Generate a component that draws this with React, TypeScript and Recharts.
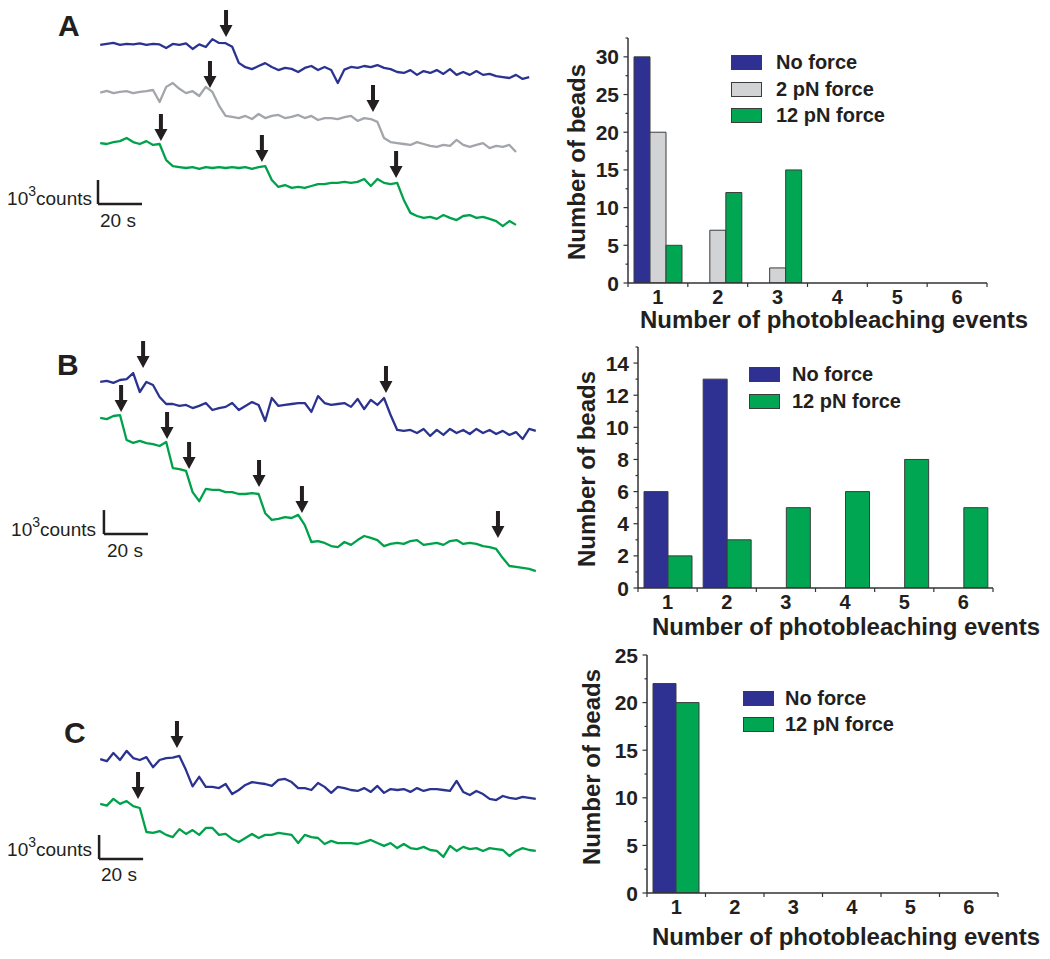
import React from 'react';
import {
  LineChart, Line, XAxis, YAxis, ReferenceDot, ReferenceLine,
  BarChart, Bar, Legend,
} from 'recharts';

// ---------- styling constants ----------
const FONT = '"Liberation Sans", Arial, Helvetica, sans-serif';
const INK = '#231F20';
const AXIS = '#333333';
const BAR_STROKE = '#3C3C3C';
const BLUE = '#2E3192';
const GREEN = '#00A651';
const GRAY_BAR = '#D1D3D4';
const TRACE_BLUE = '#2B3391';
const TRACE_GREEN = '#00A14B';
const TRACE_GRAY = '#A2A5AA';

// ---------- trace data (intensity, 10^3 counts, sampled every 3 s from t = 1 s) ----------
const DT = 3;
const T0 = 1;

const A_BLUE = [
  8.13, 8.17, 8.21, 8.13, 8.17, 8.15, 8.19, 8.13, 8.17, 8.15,
  8.0, 8.17, 8.13, 8.19, 7.96, 8.15, 8.04, 8.37, 8.21, 8.2,
  8.05, 7.38, 7.2, 7.12, 7.25, 7.37, 7.21, 7.08, 7.17, 7.13,
  7.0, 7.17, 7.25, 7.08, 7.21, 7.08, 6.54, 7.1, 7.21, 7.17,
  7.25, 7.2, 7.29, 7.17, 7.12, 7.0, 6.96, 7.08, 6.88, 7.04,
  6.96, 7.08, 6.92, 7.12, 6.88, 7.0, 6.88, 7.04, 6.88, 6.92,
  6.83, 6.79, 6.75, 6.88, 6.71, 6.79,
];
const A_GRAY = [
  6.14, 6.21, 6.12, 6.17, 6.2, 6.12, 6.17, 6.2, 6.25, 5.75,
  6.38, 6.54, 6.3, 6.12, 6.2, 6.0, 6.38, 6.17, 5.6, 5.17,
  5.13, 5.08, 5.17, 5.04, 5.25, 5.08, 5.17, 5.21, 5.08, 5.13,
  5.21, 5.08, 5.17, 5.0, 5.08, 5.08, 5.04, 5.12, 5.17, 4.96,
  5.08, 5.04, 4.92, 4.25, 4.08, 4.04, 4.0, 3.96, 4.08, 4.0,
  3.92, 3.88, 3.96, 3.92, 4.17, 3.96, 3.88, 3.96, 4.04, 3.83,
  3.92, 3.88, 3.96, 3.67,
];
const A_GREEN = [
  4.04, 4.0, 4.08, 4.12, 4.25, 4.08, 4.0, 4.12, 3.96, 4.0,
  3.33, 3.08, 3.04, 3.0, 3.04, 2.96, 3.04, 3.0, 3.04, 3.0,
  3.04, 3.0, 3.04, 2.96, 3.04, 3.08, 2.5, 2.21, 2.29, 2.17,
  2.21, 2.17, 2.25, 2.33, 2.33, 2.38, 2.38, 2.42, 2.38, 2.42,
  2.54, 2.25, 2.54, 2.38, 2.33, 2.38, 1.67, 1.13, 1.0, 0.92,
  0.96, 0.88, 1.04, 0.92, 0.83, 1.0, 1.04, 0.92, 0.96, 0.88,
  0.79, 0.58, 0.79, 0.63,
];

const B_BLUE = [
  8.67, 8.71, 8.63, 8.75, 8.79, 9.04, 8.25, 8.67, 8.54, 8.04,
  7.75, 7.75, 7.67, 7.71, 7.58, 7.67, 7.79, 7.5, 7.58, 7.63,
  7.79, 7.5, 7.67, 7.83, 7.71, 7.04, 8.0, 7.67, 7.71, 7.75,
  7.79, 7.79, 7.42, 8.08, 7.79, 7.71, 7.75, 7.79, 7.63, 7.96,
  7.54, 7.92, 7.71, 8.0, 7.29, 6.67, 6.63, 6.67, 6.54, 6.71,
  6.42, 6.67, 6.46, 6.71, 6.54, 6.67, 6.5, 6.71, 6.54, 6.67,
  6.5, 6.63, 6.46, 6.58, 6.29, 6.71, 6.63,
];
const B_GREEN = [
  7.17, 7.12, 7.25, 7.29, 6.25, 6.13, 6.21, 6.12, 6.08, 6.0,
  6.17, 5.08, 5.04, 4.96, 4.08, 3.7, 4.21, 4.17, 4.17, 4.08,
  4.08, 4.0, 4.0, 4.04, 4.0, 3.2, 2.92, 2.96, 3.04, 3.0,
  3.13, 2.7, 2.0, 2.04, 1.96, 1.83, 1.79, 2.0, 1.88, 2.08,
  2.25, 2.17, 2.08, 1.83, 1.92, 1.96, 1.92, 2.04, 2.08, 1.88,
  1.92, 1.96, 1.88, 2.04, 2.08, 1.92, 1.96, 1.92, 1.83, 1.79,
  1.71, 1.33, 1.0, 0.96, 0.92, 0.88, 0.79,
];

const C_BLUE = [
  5.04, 4.95, 5.29, 5.0, 5.38, 5.08, 5.0, 5.12, 4.7, 5.0,
  5.08, 5.1, 5.17, 4.58, 3.9, 4.3, 3.88, 3.88, 3.83, 4.0,
  3.58, 3.75, 3.96, 4.08, 4.04, 4.0, 3.92, 4.17, 4.21, 4.08,
  3.83, 3.83, 3.75, 4.04, 3.88, 3.63, 3.88, 3.83, 3.75, 3.71,
  3.83, 3.67, 3.92, 3.63, 3.79, 3.75, 3.79, 3.67, 3.83, 3.71,
  3.79, 3.79, 3.75, 3.71, 4.13, 3.67, 3.54, 3.71, 3.58, 3.38,
  3.33, 3.5, 3.42, 3.38, 3.46, 3.42, 3.38,
];
const C_GREEN = [
  3.17, 3.1, 3.38, 3.17, 3.29, 3.08, 3.0, 2.0, 1.96, 2.04,
  1.88, 1.79, 2.12, 1.92, 2.08, 1.88, 2.17, 2.17, 1.88, 1.92,
  1.71, 1.58, 1.75, 1.92, 1.75, 1.88, 1.88, 1.96, 1.92, 1.88,
  1.54, 1.88, 1.79, 1.75, 1.5, 1.63, 1.54, 1.54, 1.54, 1.5,
  1.58, 1.67, 1.54, 1.42, 1.54, 1.33, 1.5, 1.33, 1.29, 1.38,
  1.25, 1.21, 0.96, 1.42, 1.21, 1.38, 1.29, 1.33, 1.21, 1.33,
  1.29, 1.25, 1.0, 1.21, 1.33, 1.25, 1.21,
];

// photobleaching arrows (time s, intensity of arrow tip)
const A_ARROWS = [
  { t: 58.2, v: 8.46 }, { t: 50.9, v: 6.33 }, { t: 125, v: 5.33 },
  { t: 28.6, v: 4.13 }, { t: 74.5, v: 3.25 }, { t: 135.5, v: 2.58 },
];
const B_ARROWS = [
  { t: 20.5, v: 9.25 }, { t: 130.9, v: 8.21 },
  { t: 10.5, v: 7.42 }, { t: 31.4, v: 6.29 }, { t: 41.4, v: 5.04 },
  { t: 73.2, v: 4.29 }, { t: 92.7, v: 3.21 }, { t: 181.8, v: 2.17 },
];
const C_ARROWS = [{ t: 35.9, v: 5.5 }, { t: 18.2, v: 3.38 }];

// scale bars (origin; 20 s x 10^3 counts)
const A_SCALE = { t: 0, v: 1.5 };
const B_SCALE = { t: 2.7, v: 2.33 };
const C_SCALE = { t: 0.5, v: 0.875 };

// ---------- histogram data ----------
const EVENTS = ['1', '2', '3', '4', '5', '6'];
const A_NO_FORCE = [30, 0, 0, 0, 0, 0];
const A_2PN = [20, 7, 2, 0, 0, 0];
const A_12PN = [5, 12, 15, 0, 0, 0];
const B_NO_FORCE = [6, 13, 0, 0, 0, 0];
const B_12PN = [2, 3, 5, 6, 8, 5];
const C_NO_FORCE = [22, 0, 0, 0, 0, 0];
const C_12PN = [20, 0, 0, 0, 0, 0];

const A_YTICKS = [0, 2.5, 5, 7.5, 10, 12.5, 15, 17.5, 20, 22.5, 25, 27.5, 30, 32.5];
const B_YTICKS = [0, 1, 2, 3, 4, 5, 6, 7, 8, 9, 10, 11, 12, 13, 14, 15];
const C_YTICKS = [0, 2.5, 5, 7.5, 10, 12.5, 15, 17.5, 20, 22.5, 25];

const toSeries = (vals: number[]) => vals.map((v, i) => ({ t: T0 + i * DT, v }));

// ---------- shapes ----------
const Arrow = (props: any) => {
  const { cx, cy } = props;
  if (cx == null || cy == null) return null;
  const d = `M${cx},${cy} L${cx - 6.5},${cy - 12} L${cx - 2},${cy - 12} L${cx - 2},${cy - 27} L${cx + 2},${cy - 27} L${cx + 2},${cy - 12} L${cx + 6.5},${cy - 12} Z`;
  return <path d={d} fill={INK} />;
};

type Trace = { values: number[]; color: string };

function TracePanel(props: {
  top: number; height: number; marginTop: number; yMax: number;
  traces: Trace[]; arrows: { t: number; v: number }[]; scale: { t: number; v: number };
}) {
  const { top, height, marginTop, yMax, traces, arrows, scale } = props;
  return (
    <div style={{ position: 'absolute', left: 0, top, width: 545, height }}>
      <LineChart width={545} height={height} margin={{ top: marginTop, right: 7, bottom: 0, left: 98 }}>
        <XAxis type="number" dataKey="t" domain={[0, 200]} hide allowDataOverflow />
        <YAxis type="number" domain={[0, yMax]} hide allowDataOverflow />
        {traces.map((tr, i) => (
          <Line
            key={i}
            data={toSeries(tr.values)}
            dataKey="v"
            type="linear"
            stroke={tr.color}
            strokeWidth={2.3}
            strokeLinejoin="round"
            dot={false}
            activeDot={false}
            isAnimationActive={false}
          />
        ))}
        <ReferenceLine
          segment={[{ x: scale.t, y: scale.v }, { x: scale.t, y: scale.v + 1 }]}
          stroke={INK} strokeWidth={2.5} ifOverflow="visible"
        />
        <ReferenceLine
          segment={[{ x: scale.t, y: scale.v }, { x: scale.t + 20, y: scale.v }]}
          stroke={INK} strokeWidth={2.5} ifOverflow="visible"
        />
        {arrows.map((a, i) => (
          <ReferenceDot key={i} x={a.t} y={a.v} r={0} shape={Arrow} ifOverflow="visible" />
        ))}
      </LineChart>
    </div>
  );
}

const YTick = (props: any) => {
  const { x, y, payload, step } = props;
  const val = payload.value;
  const major = Math.abs(val / step - Math.round(val / step)) < 1e-6;
  return (
    <g>
      <line x1={x} x2={x - (major ? 4.5 : 2.5)} y1={y} y2={y} stroke={AXIS} strokeWidth={1.2} />
      {major && (
        <text x={x - 9} y={y} dy="0.36em" textAnchor="end" fontSize={21} fontWeight="bold"
          fontFamily={FONT} fill={INK}>{val}</text>
      )}
    </g>
  );
};

const XTick = (props: any) => {
  const { x, y, payload, index, band, count } = props;
  return (
    <g>
      <line x1={x - band / 2} x2={x - band / 2} y1={y} y2={y + 4} stroke={AXIS} strokeWidth={1.2} />
      {index === count - 1 && (
        <line x1={x + band / 2} x2={x + band / 2} y1={y} y2={y + 4} stroke={AXIS} strokeWidth={1.2} />
      )}
      <text x={x} y={y + 21} textAnchor="middle" fontSize={20} fontWeight="bold"
        fontFamily={FONT} fill={INK}>{payload.value}</text>
    </g>
  );
};

const LegendContent = (props: any) => {
  const { payload, gap, textGap, order } = props;
  const items = [...(payload || [])].sort(
    (a: any, b: any) => order.indexOf(a.value) - order.indexOf(b.value),
  );
  return (
    <div style={{ fontFamily: FONT }}>
      {items.map((p: any, i: number) => (
        <div key={i} style={{ display: 'flex', alignItems: 'flex-start', height: 15, marginBottom: gap }}>
          <div style={{
            width: 31, height: 15, background: p.color, border: `1px solid ${BAR_STROKE}`,
            boxSizing: 'border-box', flex: 'none',
          }} />
          <span style={{
            marginLeft: textGap, fontSize: 20, fontWeight: 'bold', lineHeight: '15px',
            color: INK, whiteSpace: 'nowrap',
          }}>{p.value}</span>
        </div>
      ))}
    </div>
  );
};

type Series = { key: string; name: string; values: number[]; fill: string };

function Histogram(props: {
  top: number; height: number; margin: { top: number; right: number; left: number };
  xAxisHeight: number; yMax: number; yTicks: number[]; yStep: number; series: Series[];
  legendPos: { left: number; top: number; gap: number; textGap: number };
}) {
  const { top, height, margin, xAxisHeight, yMax, yTicks, yStep, series, legendPos } = props;
  const width = 510;
  const plotW = width - margin.left - margin.right - 60;
  const band = plotW / EVENTS.length;
  const order = series.map((s) => s.name);
  const data = EVENTS.map((c, i) => {
    const row: any = { n: c };
    series.forEach((s) => { row[s.key] = s.values[i]; });
    return row;
  });
  return (
    <div style={{ position: 'absolute', left: 540, top, width, height }}>
      <BarChart width={width} height={height} data={data}
        margin={{ top: margin.top, right: margin.right, left: margin.left, bottom: 0 }}
        barCategoryGap={6} barGap={0}>
        <XAxis dataKey="n" type="category" interval={0} height={xAxisHeight}
          tickSize={0} tickMargin={0} tickLine={false}
          axisLine={{ stroke: AXIS, strokeWidth: 1.5 }}
          tick={(p: any) => <XTick {...p} band={band} count={EVENTS.length} />} />
        <YAxis type="number" domain={[0, yMax]} ticks={yTicks} interval={0} width={60}
          allowDataOverflow tickSize={0} tickMargin={0} tickLine={false}
          axisLine={{ stroke: AXIS, strokeWidth: 1.5 }}
          tick={(p: any) => <YTick {...p} step={yStep} />} />
        <Legend layout="vertical" align="center" verticalAlign="middle"
          wrapperStyle={{ left: legendPos.left, top: legendPos.top, width: 'auto' }}
          content={(p: any) => (
            <LegendContent payload={p.payload} order={order} gap={legendPos.gap} textGap={legendPos.textGap} />
          )} />
        {series.map((s) => (
          <Bar key={s.key} dataKey={s.key} name={s.name} fill={s.fill}
            stroke={BAR_STROKE} strokeWidth={1} isAnimationActive={false} />
        ))}
      </BarChart>
    </div>
  );
}

const textStyle = { fontFamily: FONT, fill: INK } as const;

function CountsLabel({ xEnd, y }: { xEnd: number; y: number }) {
  return (
    <text x={xEnd} y={y} textAnchor="end" fontSize={19} {...textStyle}>
      10<tspan fontSize={14} dy={-9}>3</tspan><tspan dy={9}>counts</tspan>
    </text>
  );
}

export default function App() {
  return (
    <div style={{
      position: 'absolute', left: 0, top: 0, width: 1050, height: 959,
      background: '#ffffff', overflow: 'hidden', fontFamily: FONT,
    }}>
      <TracePanel top={0} height={240} marginTop={0} yMax={10}
        traces={[
          { values: A_BLUE, color: TRACE_BLUE },
          { values: A_GRAY, color: TRACE_GRAY },
          { values: A_GREEN, color: TRACE_GREEN },
        ]}
        arrows={A_ARROWS} scale={A_SCALE} />
      <TracePanel top={330} height={260} marginTop={20} yMax={10}
        traces={[
          { values: B_BLUE, color: TRACE_BLUE },
          { values: B_GREEN, color: TRACE_GREEN },
        ]}
        arrows={B_ARROWS} scale={B_SCALE} />
      <TracePanel top={690} height={190} marginTop={10} yMax={7.5}
        traces={[
          { values: C_BLUE, color: TRACE_BLUE },
          { values: C_GREEN, color: TRACE_GREEN },
        ]}
        arrows={C_ARROWS} scale={C_SCALE} />

      <Histogram top={25} height={315} margin={{ top: 13, right: 63, left: 28 }} xAxisHeight={57}
        yMax={32.5} yTicks={A_YTICKS} yStep={5}
        series={[
          { key: 'noForce', name: 'No force', values: A_NO_FORCE, fill: BLUE },
          { key: 'pn2', name: '2 pN force', values: A_2PN, fill: GRAY_BAR },
          { key: 'pn12', name: '12 pN force', values: A_12PN, fill: GREEN },
        ]}
        legendPos={{ left: 191, top: 30, gap: 11.5, textGap: 14 }} />
      <Histogram top={330} height={300} margin={{ top: 17, right: 57, left: 38 }} xAxisHeight={42}
        yMax={15} yTicks={B_YTICKS} yStep={2}
        series={[
          { key: 'noForce', name: 'No force', values: B_NO_FORCE, fill: BLUE },
          { key: 'pn12', name: '12 pN force', values: B_12PN, fill: GREEN },
        ]}
        legendPos={{ left: 209, top: 37, gap: 12, textGap: 12 }} />
      <Histogram top={640} height={300} margin={{ top: 15, right: 52, left: 47 }} xAxisHeight={47}
        yMax={25} yTicks={C_YTICKS} yStep={5}
        series={[
          { key: 'noForce', name: 'No force', values: C_NO_FORCE, fill: BLUE },
          { key: 'pn12', name: '12 pN force', values: C_12PN, fill: GREEN },
        ]}
        legendPos={{ left: 203, top: 51, gap: 11, textGap: 11 }} />

      <svg width={1050} height={959} style={{ position: 'absolute', left: 0, top: 0, pointerEvents: 'none' }}>
        <text x={58} y={36} fontSize={30} fontWeight="bold" {...textStyle}>A</text>
        <text x={57} y={375} fontSize={30} fontWeight="bold" {...textStyle}>B</text>
        <text x={64} y={743} fontSize={30} fontWeight="bold" {...textStyle}>C</text>

        <CountsLabel xEnd={92} y={205} />
        <CountsLabel xEnd={96} y={536} />
        <CountsLabel xEnd={92} y={856} />
        <text x={100} y={227} fontSize={19} {...textStyle}>20 s</text>
        <text x={107} y={557} fontSize={19} {...textStyle}>20 s</text>
        <text x={101} y={881} fontSize={19} {...textStyle}>20 s</text>

        <text x={834} y={328} textAnchor="middle" fontSize={24} fontWeight="bold" {...textStyle}>Number of photobleaching events</text>
        <text x={846} y={635} textAnchor="middle" fontSize={24} fontWeight="bold" {...textStyle}>Number of photobleaching events</text>
        <text x={846} y={945} textAnchor="middle" fontSize={24} fontWeight="bold" {...textStyle}>Number of photobleaching events</text>

        <text x={585} y={162} textAnchor="middle" fontSize={24} fontWeight="bold" transform="rotate(-90 585 162)" {...textStyle}>Number of beads</text>
        <text x={595} y={469} textAnchor="middle" fontSize={24} fontWeight="bold" transform="rotate(-90 595 469)" {...textStyle}>Number of beads</text>
        <text x={600} y={767} textAnchor="middle" fontSize={24} fontWeight="bold" transform="rotate(-90 600 767)" {...textStyle}>Number of beads</text>
      </svg>
    </div>
  );
}
